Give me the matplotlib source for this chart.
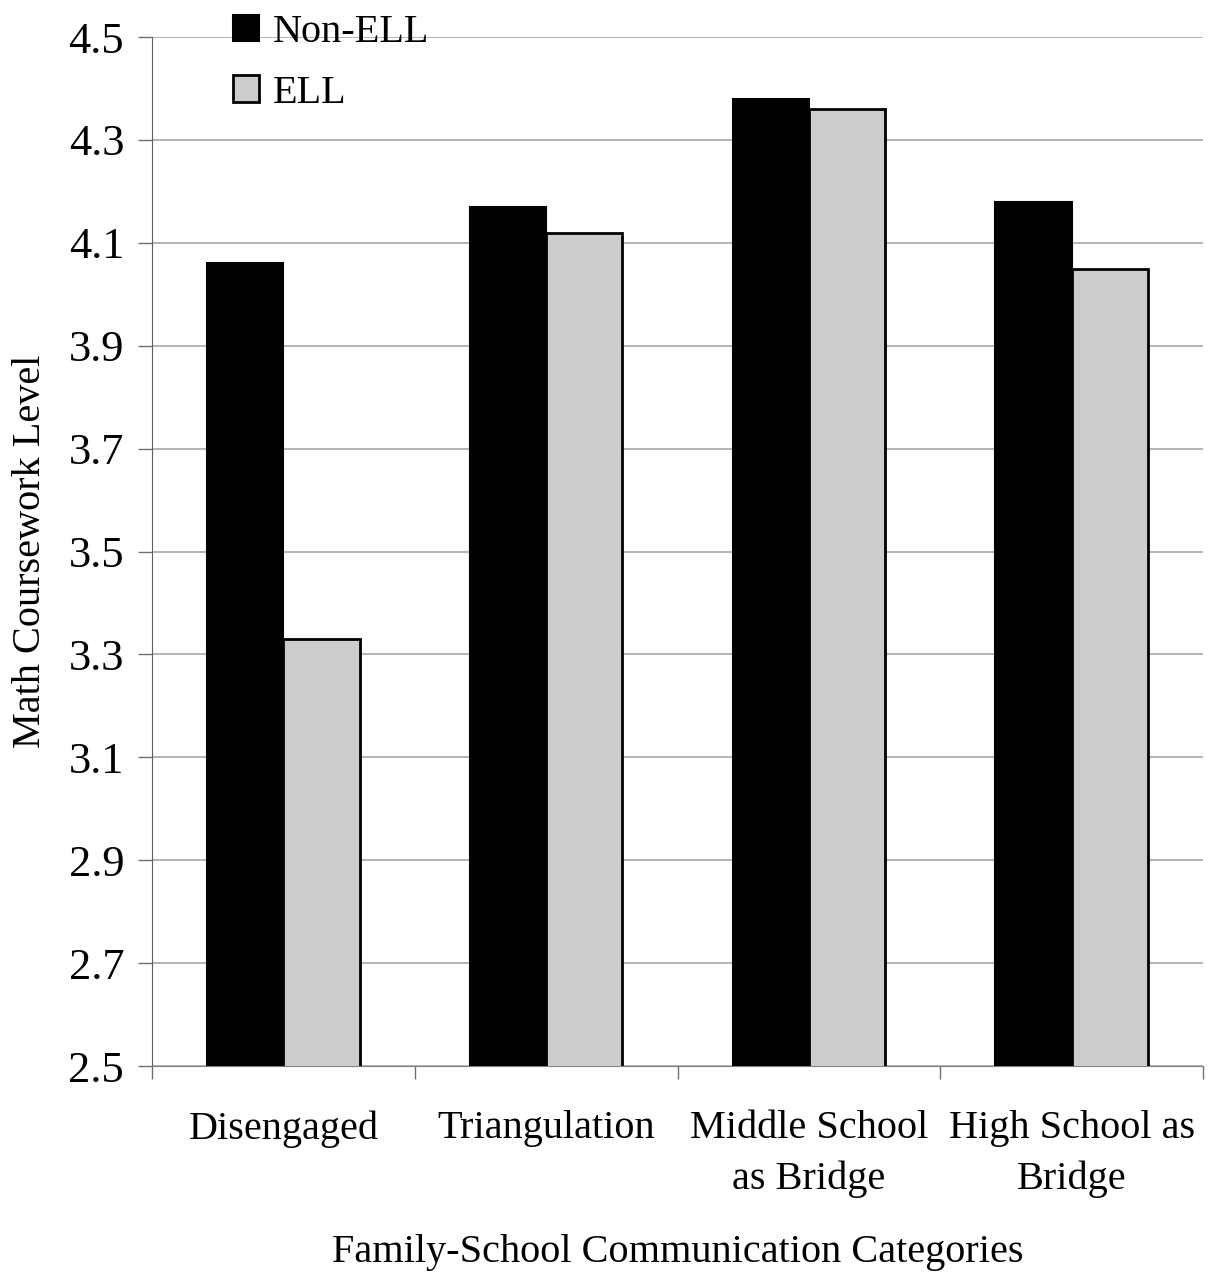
import matplotlib
matplotlib.use("Agg")
import matplotlib.pyplot as plt
import numpy as np

plt.rcParams['font.family'] = ['Liberation Serif', 'DejaVu Serif']

categories = ["Disengaged", "Triangulation", "Middle School\nas Bridge", "High School as\nBridge"]
non_ell = [4.06, 4.17, 4.38, 4.18]
ell = [3.33, 4.12, 4.36, 4.05]
yticks = [2.5, 2.7, 2.9, 3.1, 3.3, 3.5, 3.7, 3.9, 4.1, 4.3, 4.5]

fig = plt.figure(figsize=(12.14, 12.73), dpi=100)
ax = fig.add_axes([0.1252, 0.1626, 0.991 - 0.1252, 0.9709 - 0.1626])

x = np.arange(len(categories))
w = 0.29
ax.bar(x - w / 2, non_ell, w, color="black", edgecolor="black", linewidth=1.5,
       label="Non-ELL", zorder=3)
ax.bar(x + w / 2, ell, w, color="#cccccc", edgecolor="black", linewidth=2,
       label="ELL", zorder=3)

ax.set_xlim(-0.5, len(categories) - 0.5)
ax.set_ylim(2.5, 4.5)
ax.set_yticks(yticks)
ax.set_yticklabels([f"{v:.1f}" for v in yticks])
ax.yaxis.grid(True, color="#a8a8a8", linewidth=1.2, zorder=0)
ax.set_axisbelow(True)

ax.set_xticks(x)
ax.set_xticklabels(categories, linespacing=1.45)
ax.set_xticks(np.arange(-0.5, len(categories)), minor=True)
ax.tick_params(axis="x", which="major", length=0, pad=32, labelsize=29)
ax.tick_params(axis="x", which="minor", length=9, width=1, color="#707070")
ax.tick_params(axis="y", length=10, width=1, color="#707070", labelsize=32, pad=10)

for side in ["top", "right"]:
    ax.spines[side].set_visible(False)
ax.spines["left"].set_color("#606060")
ax.spines["bottom"].set_color("#808080")

ax.set_ylabel("Math Coursework Level", fontsize=29, labelpad=14)
ax.set_xlabel("Family-School Communication Categories", fontsize=29, labelpad=26)

fig.legend(loc="upper left", bbox_to_anchor=(0.1785, 1.0015), frameon=False,
           fontsize=29, handlelength=0.65, handleheight=0.65,
           handletextpad=0.35, labelspacing=0.58, borderaxespad=0)

fig.savefig("out.png", dpi=100)
